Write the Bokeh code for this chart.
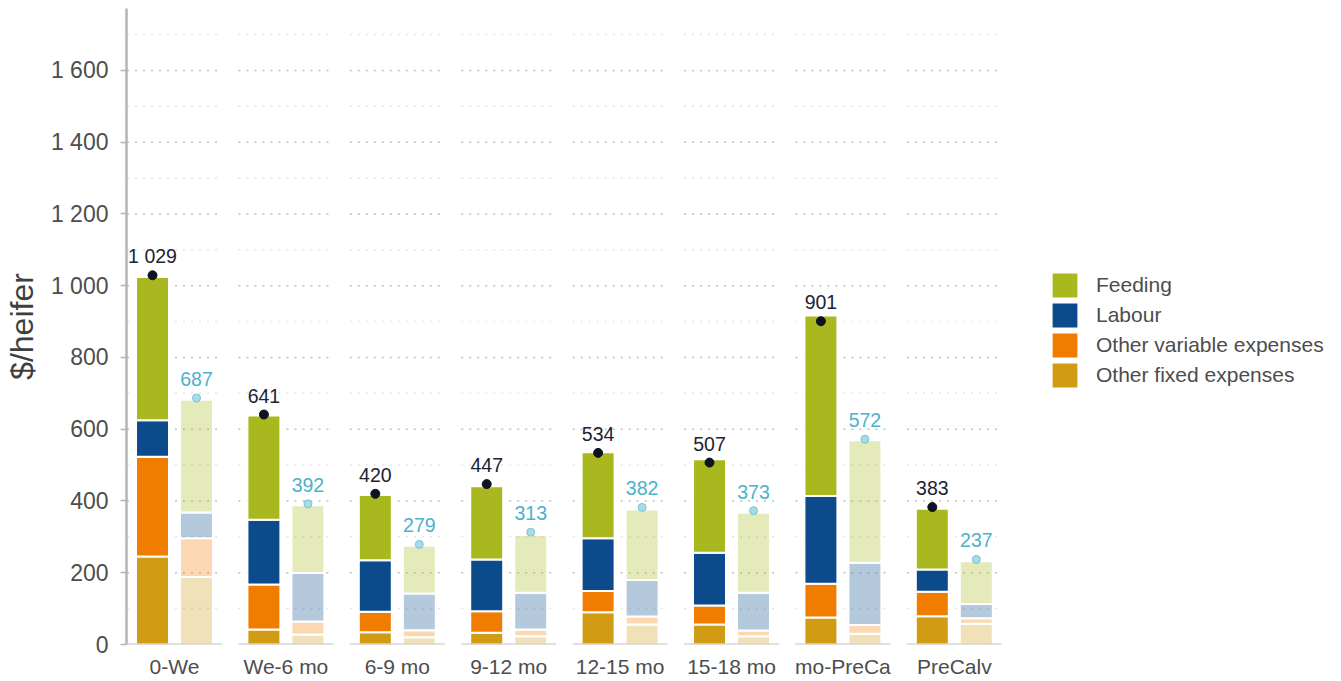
from bokeh.plotting import figure
from bokeh.models import ColumnDataSource, FixedTicker, Legend, LegendItem, Range1d
from bokeh.embed import file_html
from bokeh.resources import INLINE
from bokeh.core.properties import value

# ---------------- data ----------------
categories = ["0-We", "We-6 mo", "6-9 mo", "9-12 mo", "12-15 mo", "15-18 mo", "mo-PreCa", "PreCalv"]
series_names = ["Feeding", "Labour", "Other variable expenses", "Other fixed expenses"]

# main (dark) bars
feeding_main = [399, 290, 182, 204, 240, 260, 503, 169]
labour_main = [102, 181, 144, 144, 147, 147, 245, 62]
variable_main = [278, 125, 57, 60, 59, 53, 94, 68]
fixed_main = [245, 42, 34, 33, 90, 56, 75, 79]
total_main = [1029, 641, 420, 447, 534, 507, 901, 383]

# comparison (faded) bars
feeding_ref = [314, 189, 133, 161, 196, 223, 341, 119]
labour_ref = [72, 135, 102, 102, 102, 105, 174, 40]
variable_ref = [108, 36, 20, 19, 22, 16, 24, 15]
fixed_ref = [188, 28, 20, 23, 56, 23, 30, 58]
total_ref = [687, 392, 279, 313, 382, 373, 572, 237]

y_ticks = [0, 200, 400, 600, 800, 1000, 1200, 1400, 1600]
y_tick_labels = ["0", "200", "400", "600", "800", "1 000", "1 200", "1 400", "1 600"]

# ---------------- styling ----------------
FONT = "Liberation Sans"
col_feeding = "#a9b81f"
col_labour = "#0b4b8c"
col_variable = "#f17d00"
col_fixed = "#d19b14"
colors = [col_fixed, col_variable, col_labour, col_feeding]
legend_colors = [col_feeding, col_labour, col_variable, col_fixed]

px_per_unit_x = 111.4
px_per_unit_y = 0.3588
frame_w = 1210
frame_h = 636
x_start = -0.431
x_end = x_start + frame_w / px_per_unit_x
y_end = frame_h / px_per_unit_y

offset = 0.1975
bar_w = 0.296
half_panel = 0.426

n = len(categories)
idx = list(range(n))
x_main = [i - offset for i in idx]
x_ref = [i + offset for i in idx]


def fmt(v):
    return f"{v:,}".replace(",", " ")


src_main = ColumnDataSource(dict(x=x_main, fixed=fixed_main, variable=variable_main,
                                 labour=labour_main, feeding=feeding_main,
                                 total=total_main, label=[fmt(v) for v in total_main]))
src_ref = ColumnDataSource(dict(x=x_ref, fixed=fixed_ref, variable=variable_ref,
                                labour=labour_ref, feeding=feeding_ref,
                                total=total_ref, label=[fmt(v) for v in total_ref]))

p = figure(frame_width=frame_w, frame_height=frame_h,
           x_range=Range1d(x_start, x_end), y_range=Range1d(0, y_end),
           output_backend="svg", toolbar_location=None,
           min_border_left=126, min_border_top=8, min_border_right=0, min_border_bottom=0)
p.outline_line_color = None
p.xgrid.visible = False
p.ygrid.visible = False
p.background_fill_color = "white"

# per-panel gridlines
grid_minor_y = [v for v in range(100, 1800, 200)]
grid_major_y = [v for v in range(200, 1700, 200)]
gx0, gx1, gy = [], [], []
for i in idx:
    for v in grid_minor_y:
        gx0.append(i - half_panel); gx1.append(i + half_panel); gy.append(v)
p.segment(x0=gx0, x1=gx1, y0=gy, y1=gy, line_color="#e3e3e3", line_width=1.5, line_dash="2 6")
gx0, gx1, gy = [], [], []
for i in idx:
    for v in grid_major_y:
        gx0.append(i - half_panel); gx1.append(i + half_panel); gy.append(v)
p.segment(x0=gx0, x1=gx1, y0=gy, y1=gy, line_color="#c0c0c0", line_width=1.5, line_dash="2 6")

stack_keys = ["fixed", "variable", "labour", "feeding"]
r_main = p.vbar_stack(stack_keys, x="x", width=bar_w, color=colors, source=src_main,
                      line_color="white", line_width=2)
r_ref = p.vbar_stack(stack_keys, x="x", width=bar_w, color=colors, source=src_ref,
                     line_color="white", line_width=2, fill_alpha=0.3)
for r in r_main + r_ref:
    r.glyph.line_color = "white"

# panel baselines
p.segment(x0=[i - half_panel for i in idx], x1=[i + half_panel for i in idx],
          y0=[0] * n, y1=[0] * n, line_color="#c2c2c2", line_width=2)

# totals
p.scatter(x="x", y="total", source=src_main, size=9, fill_color="#0d1321", line_color="#0d1321")
p.scatter(x="x", y="total", source=src_ref, size=8, fill_color="#a6dbe9", line_color="#79c3d7")
p.text(x="x", y="total", text="label", source=src_main, text_align="center",
       text_baseline="alphabetic", y_offset=-19, text_font=value(FONT),
       text_font_size="19.5px", text_color="#1c2333")
p.text(x="x", y="total", text="label", source=src_ref, text_align="center",
       text_baseline="alphabetic", y_offset=-19, text_font=value(FONT),
       text_font_size="19.5px", text_color="#4cb1ca")

# legend swatches (a single undrawable NaN entry, only used to paint the legend)
nan = float("nan")
swatches = [p.quad(left=[nan], right=[nan], top=[nan], bottom=[nan], fill_color=c, line_color=None)
            for c in legend_colors]

# axes
xa = p.xaxis[0]
xa.ticker = FixedTicker(ticks=idx)
xa.major_label_overrides = {i: c for i, c in zip(idx, categories)}
xa.axis_line_color = None
xa.major_tick_line_color = None
xa.minor_tick_line_color = None
xa.major_label_text_font = FONT
xa.major_label_text_font_size = "21px"
xa.major_label_text_color = "#4d4d4d"
xa.major_label_standoff = 4

ya = p.yaxis[0]
ya.ticker = FixedTicker(ticks=y_ticks)
ya.major_label_overrides = {t: l for t, l in zip(y_ticks, y_tick_labels)}
ya.axis_line_color = "#b5b5b5"
ya.axis_line_width = 2.5
ya.major_tick_line_color = "#b5b5b5"
ya.major_tick_line_width = 1.5
ya.major_tick_in = 0
ya.major_tick_out = 6
ya.minor_tick_line_color = None
ya.major_label_text_font = FONT
ya.major_label_text_font_size = "23px"
ya.major_label_text_color = "#4d4d4d"
ya.major_label_standoff = 12
ya.axis_label = "$/heifer"
ya.axis_label_text_font = FONT
ya.axis_label_text_font_size = "32px"
ya.axis_label_text_font_style = "normal"
ya.axis_label_text_color = "#3f3f3f"
ya.axis_label_standoff = 8

# legend
items = [LegendItem(label=name, renderers=[r]) for name, r in zip(series_names, swatches)]
legend = Legend(items=items, location=(923, 254), orientation="vertical",
                glyph_width=31, glyph_height=30, label_height=25, spacing=0,
                label_standoff=16, padding=0, margin=0,
                label_text_font=FONT, label_text_font_size="21px", label_text_color="#4d4d4d",
                border_line_color=None, background_fill_alpha=0)
p.add_layout(legend, "center")

open("out.html", "w").write(file_html(p, INLINE))
